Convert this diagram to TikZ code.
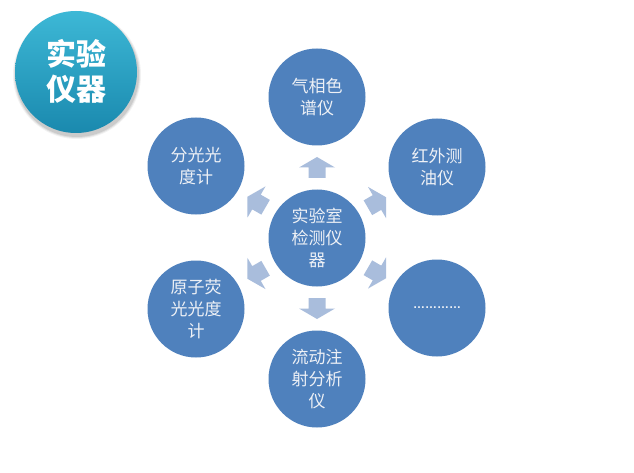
\documentclass[tikz,border=0pt]{standalone}
\usepackage{fontspec}
\newfontfamily\cjk{Noto Sans CJK SC}
\newfontfamily\latin{Liberation Sans}
\usetikzlibrary{calc}
\definecolor{circblue}{HTML}{4F81BD}
\definecolor{arrowcol}{HTML}{A9BDDC}
\definecolor{titletop}{HTML}{3DB8D6}
\definecolor{titlebot}{HTML}{1A89AE}
\definecolor{txtcol}{HTML}{EEF1F6}
\tikzset{
  item/.style={circle, fill=circblue, minimum size=97pt, inner sep=0pt,
    text=txtcol, align=center, font=\cjk\fontsize{17}{22}\selectfont},
  barrow/.pic={\fill[arrowcol] (-10.5,-8.5) -- (0,-8.5) -- (0,-18) -- (10.5,0)
     -- (0,18) -- (0,8.5) -- (-10.5,8.5) -- cycle;}
}
\begin{document}
\begin{tikzpicture}[x=1pt,y=-1pt]
\useasboundingbox (0,0) rectangle (634,473);
\fill[white] (0,0) rectangle (634,473);
% title
\foreach \r/\o in {64/0.05,63/0.07,62/0.09}{\fill[black,opacity=\o] (77,75) circle (\r);}
\shade[top color=titletop, bottom color=titlebot] (76,72) circle (61);
\node[text=white, align=center, font=\cjk\bfseries\fontsize{30}{35}\selectfont] (title) at (76,71) {实验\\仪器};
% circles
\node[item] (c)  at (317,238) {实验室\\检测仪\\器};
\node[item] (t)  at (317,97)  {气相色\\谱仪};
\node[item] (ur) at (437,167) {红外测\\油仪};
\node[item] (lr) at (437,308) {\latin\bfseries\fontsize{12}{14}\selectfont …………};
\node[item] (b)  at (317,379) {流动注\\射分析\\仪};
\node[item] (ll) at (196,309) {原子荧\\光光度\\计};
\node[item] (ul) at (196,166) {分光光\\度计};
% arrows
\pic[rotate=90]  at ($(c)!0.5!(t)$)  {barrow};
\pic[rotate=30]  at ($(c)!0.5!(ur)$) {barrow};
\pic[rotate=-30] at ($(c)!0.5!(lr)$) {barrow};
\pic[rotate=-90] at ($(c)!0.5!(b)$)  {barrow};
\pic[rotate=-150] at ($(c)!0.5!(ll)$) {barrow};
\pic[rotate=150] at ($(c)!0.5!(ul)$) {barrow};
\end{tikzpicture}
\end{document}
